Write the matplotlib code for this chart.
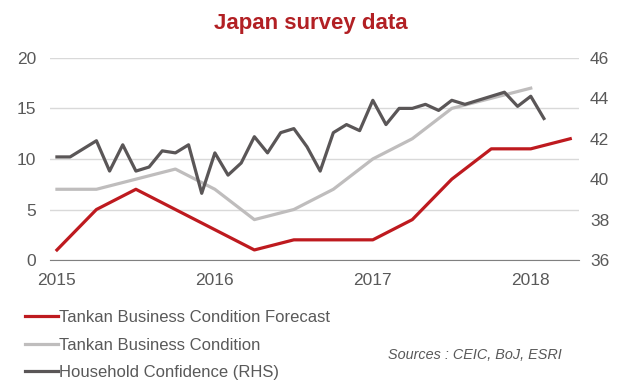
import matplotlib.pyplot as plt
import numpy as np

plt.rcParams['font.family'] = ['Liberation Sans', 'DejaVu Sans']

# quarterly Tankan survey (LHS)
quarters = [2015.0, 2015.25, 2015.5, 2015.75, 2016.0, 2016.25, 2016.5, 2016.75,
            2017.0, 2017.25, 2017.5, 2017.75, 2018.0, 2018.25]
forecast = [1, 5, 7, 5, 3, 1, 2, 2, 2, 4, 8, 11, 11, 12]
condition = [7, 7, 8, 9, 7, 4, 5, 7, 10, 12, 15, 16, 17]

# monthly household confidence (RHS), Jan 2015 - Feb 2018
household = [41.1, 41.1, 41.5, 41.9, 40.4, 41.7, 40.4, 40.6, 41.4, 41.3, 41.7, 39.3,
             41.3, 40.2, 40.8, 42.1, 41.3, 42.3, 42.5, 41.6, 40.4, 42.3, 42.7, 42.4,
             43.9, 42.7, 43.5, 43.5, 43.7, 43.4, 43.9, 43.7, 43.9, 44.1, 44.3, 43.6,
             44.1, 43.0]
months = 2015 + np.arange(len(household)) / 12.0

red = '#BE1A1F'
light = '#BFBDBD'
dark = '#5A5657'
txt = '#595959'

fig = plt.figure(figsize=(6.21, 3.83), dpi=100)
ax1 = fig.add_axes([0.0805, 0.321, 0.8515, 0.528])
ax2 = ax1.twinx()

ax1.plot(quarters, forecast, color=red, lw=2.3, label='Tankan Business Condition Forecast', zorder=3)
ax1.plot(quarters[:len(condition)], condition, color=light, lw=2.3, label='Tankan Business Condition', zorder=2)
ax2.plot(months, household, color=dark, lw=2.3, label='Household Confidence (RHS)')

ax1.set_xlim(2014.956, 2018.304)
ax1.set_ylim(0, 20)
ax2.set_ylim(36, 46)
ax1.set_yticks([0, 5, 10, 15, 20])
ax2.set_yticks([36, 38, 40, 42, 44, 46])
ax1.set_xticks([2015, 2016, 2017, 2018])
ax1.set_xticklabels(['2015', '2016', '2017', '2018'])

ax1.grid(axis='y', color='#D9D9D9', lw=1)
ax1.set_axisbelow(True)
for a in (ax1, ax2):
    for s in ('top', 'left', 'right', 'bottom'):
        a.spines[s].set_visible(False)
    a.tick_params(length=0, labelsize=12.5, labelcolor=txt)
ax1.spines['bottom'].set_visible(True)
ax1.spines['bottom'].set_color('#808080')
ax1.tick_params(axis='y', pad=10)
ax2.tick_params(axis='y', pad=8)
ax1.tick_params(axis='x', pad=9)

fig.text(0.5, 0.938, 'Japan survey data', ha='center', va='center',
         fontsize=16, fontweight='bold', color='#B22024')

h1, l1 = ax1.get_legend_handles_labels()
h2, l2 = ax2.get_legend_handles_labels()
fig.legend(h1 + h2, l1 + l2, loc='upper left', bbox_to_anchor=(0.04, 0.19),
           frameon=False, fontsize=12, handlelength=2.0, handletextpad=0.05,
           labelspacing=0.75, borderpad=0, borderaxespad=0, labelcolor=txt)

fig.text(0.625, 0.072, 'Sources : CEIC, BoJ, ESRI', fontsize=10.4, style='italic',
         color=txt, va='center')

fig.savefig('out.png', dpi=100)
